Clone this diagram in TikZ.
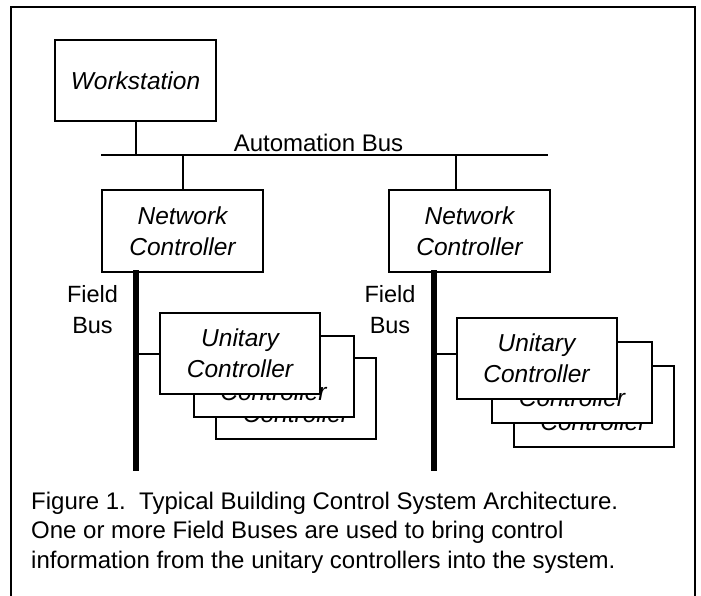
\documentclass[tikz,border=0pt]{standalone}
\usepackage{fontspec}
\setmainfont{Liberation Sans}
\begin{document}
\begin{tikzpicture}[x=1pt,y=-1pt,
  box/.style={draw=black, fill=white, line width=2pt, inner sep=0pt,
    minimum width=161pt, minimum height=81pt, align=center,
    font=\fontsize{24.5}{31}\selectfont\itshape},
  thin/.style={line width=2pt},
  fieldbus/.style={line width=5.5pt},
  lbl/.style={inner sep=0pt, align=center, font=\fontsize{23.5}{31}\selectfont}]
\useasboundingbox (0,0) rectangle (701,596);
% frame
\draw[line width=2pt] (11,600) -- (11,7) -- (695,7) -- (695,600);
% workstation
\node[box] (ws) at (135.5,80.5) {Workstation};
% automation bus
\coordinate (abl) at (101,155);
\coordinate (abr) at (548,155);
\draw[thin] (abl) -- (abr);
\node[lbl, font=\fontsize{24}{29}\selectfont, anchor=base] (abus) at (318.5,152) {Automation Bus};
\draw[thin] (ws.south) -- (ws.south |- abl);
% network controllers
\node[box] (nc1) at (182.5,231) {Network\\Controller};
\node[box] (nc2) at (469.5,231) {Network\\Controller};
\coordinate (t1) at (182.5,155);
\coordinate (t2) at (456,155);
\draw[thin] (t1) -- (nc1.north);
\draw[thin] (t2) -- (t2 |- nc2.north);
% field buses
\coordinate (fb1top) at (136,270);
\coordinate (fb1bot) at (136,471);
\coordinate (fb2top) at (434,270);
\coordinate (fb2bot) at (434,471);
\draw[fieldbus] (fb1top) -- (fb1bot);
\draw[fieldbus] (fb2top) -- (fb2bot);
\node[lbl] (fl1) at (92.5,310) {Field\\Bus};
\node[lbl] (fl2) at (390,310) {Field\\Bus};
% unitary controllers left
\node[box, minimum width=160pt] (u1c) at (296,398.5) {Unitary\\Controller};
\node[box, minimum width=160pt] (u1b) at (273.5,376.5) {Unitary\\Controller};
\node[box, minimum width=160pt] (u1a) at (240,353.5) {Unitary\\Controller};
% unitary controllers right
\node[box, minimum width=160pt] (u2c) at (593.5,406) {Unitary\\Controller};
\node[box, minimum width=160pt] (u2b) at (572,382.5) {Unitary\\Controller};
\node[box, minimum width=160pt] (u2a) at (536.5,358.5) {Unitary\\Controller};
\coordinate (j1) at (136,354);
\coordinate (j2) at (434,354);
\draw[thin] (j1) -- (j1 -| u1a.west);
\draw[thin] (j2) -- (j2 -| u2a.west);
% caption
\node[inner sep=0pt, anchor=base west, align=left,
  font=\fontsize{24}{29.5}\selectfont] (cap) at (31,568)
  {Figure 1.\ \ Typical Building Control System Architecture.\\
   One or more Field Buses are used to bring control\\
   information\ from the unitary controllers into the system.};
\end{tikzpicture}
\end{document}
